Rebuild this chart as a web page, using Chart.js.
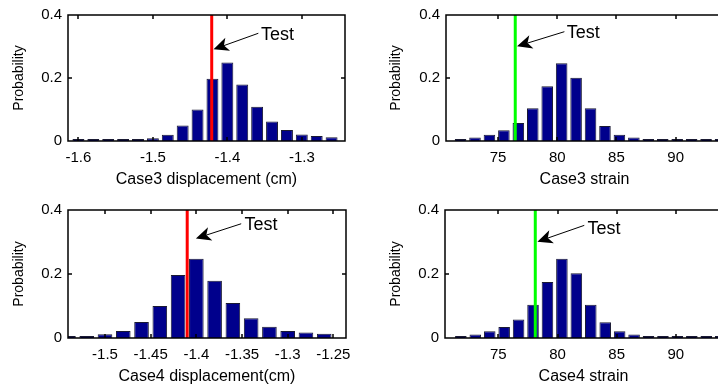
<!DOCTYPE html>
<html><head><meta charset="utf-8">
<script src="https://cdn.jsdelivr.net/npm/chart.js@4"></script>
<style>
html,body{margin:0;padding:0;background:#fff;width:718px;height:391px;overflow:hidden;position:relative;}
canvas{position:absolute;}
</style></head><body>
<canvas id="c1" width="359" height="195" style="left:0;top:0;width:359px;height:195px"></canvas>
<canvas id="c2" width="380" height="195" style="left:359px;top:0;width:380px;height:195px"></canvas>
<canvas id="c3" width="359" height="196" style="left:0;top:195px;width:359px;height:196px"></canvas>
<canvas id="c4" width="380" height="196" style="left:359px;top:195px;width:380px;height:196px"></canvas>
<script>
// ---- data ----
const case3DispBins = [-1.60,-1.58,-1.56,-1.54,-1.52,-1.50,-1.48,-1.46,-1.44,-1.42,-1.40,-1.38,-1.36,-1.34,-1.32,-1.30,-1.28,-1.26];
const case3DispProb = [0.004,0.002,0.002,0.002,0.003,0.009,0.020,0.049,0.100,0.198,0.249,0.179,0.109,0.062,0.035,0.021,0.016,0.012];
const case4DispBins = [-1.54,-1.52,-1.50,-1.48,-1.46,-1.44,-1.42,-1.40,-1.38,-1.36,-1.34,-1.32,-1.30,-1.28,-1.26];
const case4DispProb = [0.003,0.005,0.012,0.022,0.050,0.100,0.197,0.248,0.179,0.109,0.062,0.035,0.022,0.017,0.013];
const strainBins = [71.83,73.05,74.27,75.49,76.71,77.93,79.15,80.37,81.59,82.81,84.03,85.25,86.47,87.69,88.91,90.13,91.35,92.57,93.79];
const case3StrainProb = [0.002,0.011,0.020,0.034,0.057,0.104,0.174,0.247,0.201,0.104,0.048,0.020,0.011,0.003,0.004,0.003,0.004,0.003,0.003];
const case4StrainProb = [0.002,0.011,0.021,0.034,0.058,0.104,0.175,0.248,0.202,0.104,0.049,0.021,0.011,0.003,0.003,0.004,0.003,0.003,0.003];
const yTicks = [0, 0.2, 0.4];
const yTickLabels = ['0', '0.2', '0.4'];
const case3DispTicks = [-1.6, -1.5, -1.4, -1.3];
const case3DispTickLabels = ['-1.6', '-1.5', '-1.4', '-1.3'];
const case4DispTicks = [-1.5, -1.45, -1.4, -1.35, -1.3, -1.25];
const case4DispTickLabels = ['-1.5', '-1.45', '-1.4', '-1.35', '-1.3', '-1.25'];
const strainTicks = [75, 80, 85, 90];
const strainTickLabels = ['75', '80', '85', '90'];
const testValues = [-1.421, 76.45, -1.41, 78.12];   // measured values
const xTitles = ['Case3 displacement (cm)', 'Case3 strain', 'Case4 displacement(cm)', 'Case4 strain'];
const testLabel = 'Test';

// ---- panel setup (ranges / annotation anchors in data units) ----
const FONT = "'Liberation Sans', Arial, Helvetica, sans-serif";
const panels = [
  {id:'c1', bins:case3DispBins, vals:case3DispProb, xMin:-1.614, xMax:-1.242, ticks:case3DispTicks, tickLabels:case3DispTickLabels,
   test:testValues[0], color:'#ff0000', title:xTitles[0], text:[-1.3548,0.335], tail:[-1.3584,0.342], tip:[-1.4185,0.291],
   lay:{yw:68, xh:54, top:11, right:14, ytp:10.5, xtp:6}},
  {id:'c2', bins:strainBins, vals:case3StrainProb, xMin:70.6, xMax:94.0, ticks:strainTicks, tickLabels:strainTickLabels,
   test:testValues[1], color:'#00ff00', title:xTitles[1], text:[80.79,0.3415], tail:[80.6,0.347], tip:[76.6,0.3006],
   lay:{yw:87, xh:54, top:11, right:16, ytp:28.5, xtp:6}},
  {id:'c3', bins:case4DispBins, vals:case4DispProb, xMin:-1.5405, xMax:-1.2363, ticks:case4DispTicks, tickLabels:case4DispTickLabels,
   test:testValues[2], color:'#ff0000', title:xTitles[2], text:[-1.3473,0.353], tail:[-1.3509,0.357], tip:[-1.4005,0.311],
   lay:{yw:68, xh:53, top:13, right:12, ytp:10.5, xtp:5}},
  {id:'c4', bins:strainBins, vals:case4StrainProb, xMin:70.49, xMax:93.9, ticks:strainTicks, tickLabels:strainTickLabels,
   test:testValues[3], color:'#00ff00', title:xTitles[3], text:[82.54,0.342], tail:[82.26,0.352], tip:[78.3,0.301],
   lay:{yw:86, xh:53, top:13, right:17, ytp:28.5, xtp:5}}
];

function drawArrow(ctx, x0, y0, x1, y1) {
  const dx = x1 - x0, dy = y1 - y0, len = Math.hypot(dx, dy);
  const ux = dx / len, uy = dy / len, px = -uy, py = ux;
  const L = 15, W = 7, N = 11;
  const nx = x1 - N * ux, ny = y1 - N * uy;
  ctx.strokeStyle = '#000'; ctx.fillStyle = '#000'; ctx.lineWidth = 1;
  ctx.beginPath(); ctx.moveTo(x0, y0); ctx.lineTo(nx, ny); ctx.stroke();
  ctx.beginPath();
  ctx.moveTo(x1, y1);
  ctx.lineTo(x1 - L * ux + W * px, y1 - L * uy + W * py);
  ctx.lineTo(nx, ny);
  ctx.lineTo(x1 - L * ux - W * px, y1 - L * uy - W * py);
  ctx.closePath(); ctx.fill();
}

function makeFramePlugin(p) {
  return {
    id: 'frame_' + p.id,
    afterDraw(chart) {
      const ctx = chart.ctx, xs = chart.scales.x, ys = chart.scales.y;
      const L = Math.round(xs.getPixelForValue(p.xMin));
      const R = Math.round(xs.getPixelForValue(p.xMax));
      const T = Math.round(ys.getPixelForValue(yTicks[yTicks.length - 1]));
      const B = Math.round(ys.getPixelForValue(yTicks[0]));
      ctx.save();
      ctx.strokeStyle = '#000';
      ctx.lineWidth = 1.5;
      ctx.beginPath();
      ctx.moveTo(L, T); ctx.lineTo(R, T); ctx.lineTo(R, B); ctx.lineTo(L, B); ctx.closePath();
      const tl = 4;
      p.ticks.forEach(v => {
        const x = Math.round(xs.getPixelForValue(v));
        ctx.moveTo(x, B); ctx.lineTo(x, B - tl);
        ctx.moveTo(x, T); ctx.lineTo(x, T + tl);
      });
      yTicks.forEach(v => {
        const y = Math.round(ys.getPixelForValue(v));
        ctx.moveTo(L, y); ctx.lineTo(L + tl, y);
        ctx.moveTo(R, y); ctx.lineTo(R - tl, y);
      });
      ctx.stroke();
      drawArrow(ctx, xs.getPixelForValue(p.tail[0]), ys.getPixelForValue(p.tail[1]),
                     xs.getPixelForValue(p.tip[0]), ys.getPixelForValue(p.tip[1]));
      ctx.fillStyle = '#000';
      ctx.font = '18px ' + FONT;
      ctx.textAlign = 'left'; ctx.textBaseline = 'middle';
      ctx.fillText(testLabel, xs.getPixelForValue(p.text[0]), ys.getPixelForValue(p.text[1]));
      ctx.restore();
    }
  };
}

panels.forEach(p => {
  const barData = p.bins.map((b, i) => ({x: b, y: p.vals[i]}));
  new Chart(document.getElementById(p.id), {
    type: 'bar',
    data: {
      datasets: [
        {type: 'bar', data: barData, backgroundColor: '#00008c', borderColor: '#1a1a33', borderWidth: 1,
         barPercentage: 0.8, categoryPercentage: 1.0, minBarLength: 2, order: 1},
        {type: 'line', data: [{x: p.test, y: yTicks[0]}, {x: p.test, y: yTicks[yTicks.length - 1]}],
         borderColor: p.color, borderWidth: 3, pointRadius: 0, fill: false, order: 0}
      ]
    },
    options: {
      responsive: false, animation: false, devicePixelRatio: 1,
      layout: {padding: {left: 0, top: p.lay.top, right: p.lay.right, bottom: 0}},
      plugins: {legend: {display: false}, tooltip: {enabled: false}},
      scales: {
        x: {
          type: 'linear', position: 'bottom', offset: false, min: p.xMin, max: p.xMax,
          grid: {display: false, drawTicks: false}, border: {display: false},
          afterBuildTicks: ax => { ax.ticks = p.ticks.map(v => ({value: v})); },
          afterFit: ax => { ax.height = p.lay.xh; },
          ticks: {autoSkip: false, maxRotation: 0, padding: 8, color: '#000',
                  font: {family: FONT, size: 15},
                  callback: (v) => { const i = p.ticks.indexOf(v); return i >= 0 ? p.tickLabels[i] : ''; }},
          title: {display: true, text: p.title, color: '#000', font: {family: FONT, size: 16},
                  padding: {top: 0, bottom: p.lay.xtp}}
        },
        y: {
          type: 'linear', position: 'left', min: 0, max: 0.4,
          grid: {display: false, drawTicks: false}, border: {display: false},
          afterBuildTicks: ax => { ax.ticks = yTicks.map(v => ({value: v})); },
          afterFit: ax => { ax.width = p.lay.yw; },
          ticks: {autoSkip: false, padding: 6, color: '#000', font: {family: FONT, size: 15},
                  callback: (v) => { const i = yTicks.indexOf(v); return i >= 0 ? yTickLabels[i] : ''; }},
          title: {display: true, text: 'Probability', color: '#000', font: {family: FONT, size: 14},
                  padding: {top: p.lay.ytp, bottom: 0}}
        }
      }
    },
    plugins: [makeFramePlugin(p)]
  });
});
</script>
</body></html>
